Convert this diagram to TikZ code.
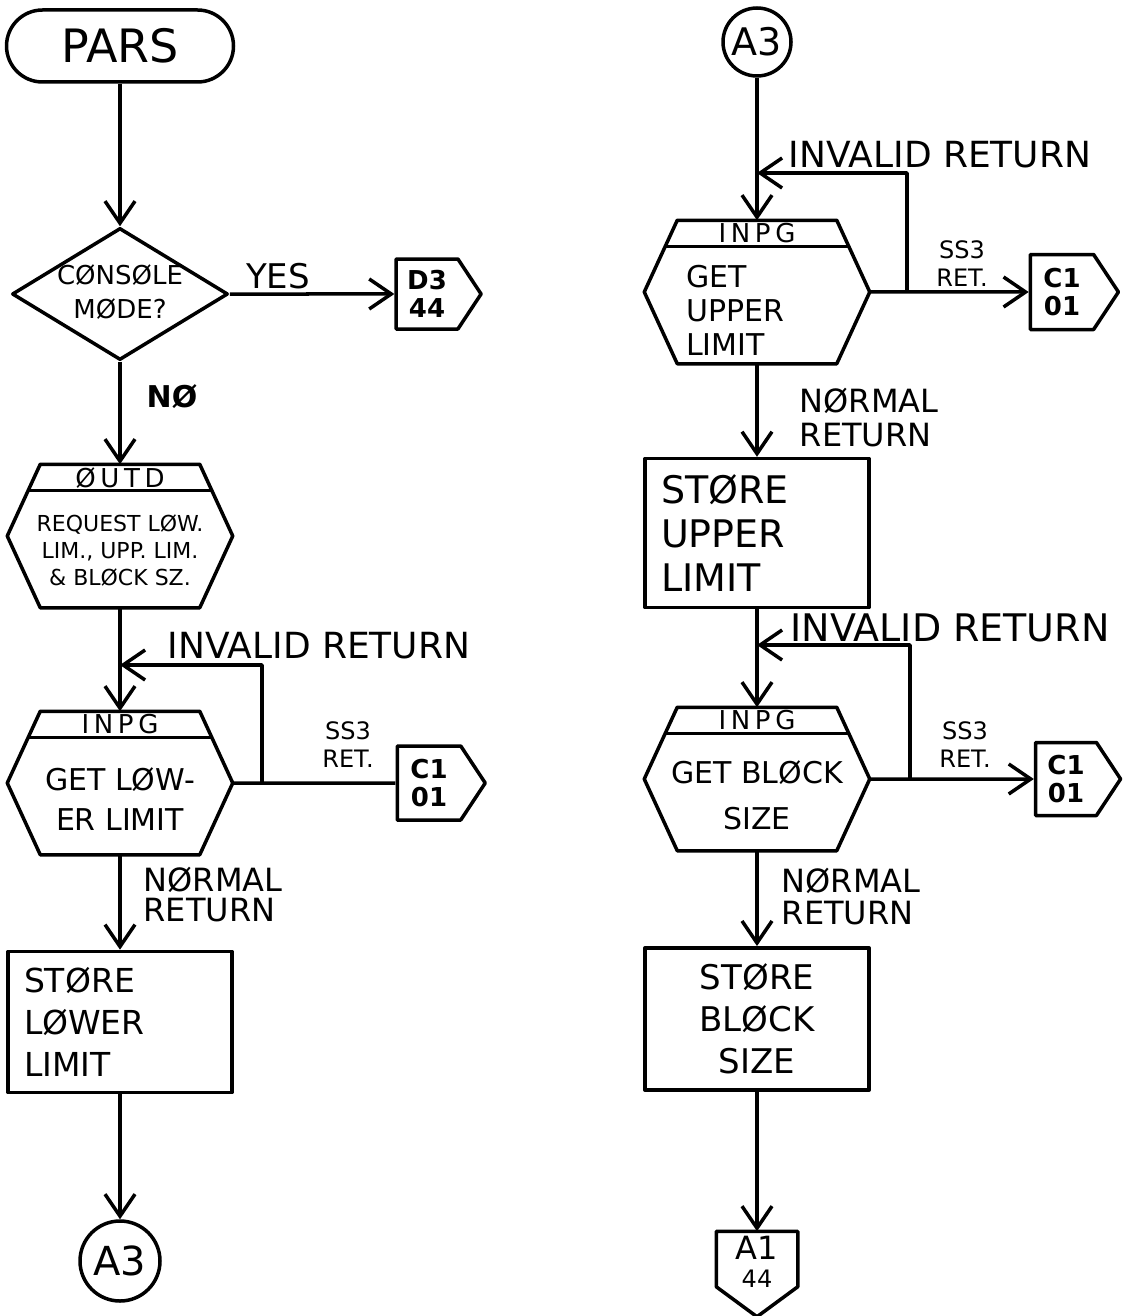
\documentclass[tikz,border=0pt]{standalone}
\usepackage{fontspec}
\setmainfont{DejaVu Sans}
\newfontfamily\widefont[LetterSpace=18]{DejaVu Sans}
\usetikzlibrary{positioning,calc,arrows.meta,shapes.geometric,shapes.symbols}

\tikzset{every picture/.style={line width=3.5pt}}
\newcommand{\fsz}[2]{\fontsize{#1}{#2}\selectfont}

% outline of a predefined process with its header bar
\newcommand{\hexout}[1]{%
  \draw ($(#1.north west)+(33,0)$) -- ($(#1.north east)+(-33,0)$) -- (#1.east)
    -- ($(#1.south east)+(-33,0)$) -- ($(#1.south west)+(33,0)$) -- (#1.west) -- cycle;
  \draw ($(#1.north west)+(21,26)$) -- ($(#1.north east)+(-21,26)$);}

% outline of an off-page connector pointing down
\newcommand{\downout}[1]{%
  \draw (#1.north west) -- (#1.north east) -- ($(#1.south east)+(0,-30)$)
    -- (#1.south) -- ($(#1.south west)+(0,-30)$) -- cycle;}

\begin{document}
\begin{tikzpicture}[
            x=1pt,
            y=1pt,
            yscale=-1,
            xscale=1,
            every node/.style={text=black},
            line width=3.5pt,
            line join=round,
            flow/.style={-{Straight Barb[length=22pt,width=30pt]}},
            term/.style={draw, rounded corners=36pt, minimum width=227pt, minimum height=72pt, inner sep=0pt, font=\fsz{46}{46}},
            decide/.style={draw, diamond, minimum width=216pt, minimum height=132pt, inner sep=0pt},
            hexproc/.style={minimum width=222pt, minimum height=140pt, inner sep=0pt},
            hdr/.style={inner sep=0pt, font=\widefont\fsz{26}{26}},
            txt/.style={inner sep=0pt, align=center},
            box/.style={draw, minimum width=224pt, minimum height=140pt, text width=192pt, inner sep=16pt, align=left},
            conn/.style={draw, circle, inner sep=0pt},
            pout/.style={draw, signal, signal to=east, signal pointer angle=113, inner sep=0pt, align=center, font=\bfseries\fsz{26}{28}},
            pdown/.style={minimum width=78pt, minimum height=82pt, inner sep=0pt},
            lbl/.style={inner sep=0pt, align=left}
        ]
            \useasboundingbox (0,0) rectangle (1138,1316);

            % left column
            \node[term] (pars) at (120,46) {PARS};
            \node[decide] (cons) at (120,294) {};
            \node[txt, font=\fsz{26}{34}] (consT) at (120,292) {CØNSØLE\\MØDE?};
            \node[pout, minimum width=85pt, minimum height=70pt] (d344) at (427,294) {D3\\44};

            \node[hexproc] (outd) at (120,536) {};
            \hexout{outd}
            \node[hdr] (outdH) at ($(outd.north)+(0,14)$) {ØUTD};
            \node[txt, font=\fsz{22}{27}] (outdT) at ($(outd.center)+(0,14)$) {REQUEST LØW.\\LIM., UPP. LIM.\\\& BLØCK SZ.};

            \node[hexproc] (inpgL) at (120,783) {};
            \hexout{inpgL}
            \node[hdr] (inpgLH) at ($(inpgL.north)+(0,13)$) {INPG};
            \node[txt, font=\fsz{30}{40}] (inpgLT) at ($(inpgL.center)+(0,16)$) {GET LØW-\\ER LIMIT};
            \node[pout, minimum width=88pt, minimum height=74pt] (c101L) at (429,783) {C1\\01};

            \node[box, font=\fsz{33}{42}] (storeL) at (120,1022) {STØRE\\LØWER\\LIMIT};
            \node[conn, minimum size=80pt, font=\fsz{40}{40}] (a3L) at (120,1261) {A3};

            % right column
            \node[conn, minimum size=68pt, font=\fsz{38}{38}] (a3R) at (757,42) {A3};

            \node[hexproc] (inpgU) at (757,292) {};
            \hexout{inpgU}
            \node[hdr] (inpgUH) at ($(inpgU.north)+(0,13)$) {INPG};
            \node[txt, align=left, font=\fsz{30}{34}] (inpgUT) at (735,310) {GET\\UPPER\\LIMIT};
            \node[pout, minimum width=88pt, minimum height=75pt] (c101U) at (1062,292) {C1\\01};

            \node[box, font=\fsz{38}{44}] (storeU) at (757,533) {STØRE\\UPPER\\LIMIT};

            \node[hexproc] (inpgB) at (757,779) {};
            \hexout{inpgB}
            \node[hdr] (inpgBH) at ($(inpgB.north)+(0,13)$) {INPG};
            \node[txt, font=\fsz{30}{46}] (inpgBT) at ($(inpgB.center)+(0,16)$) {GET BLØCK\\SIZE};
            \node[pout, minimum width=85pt, minimum height=73pt] (c101B) at (1066,779) {C1\\01};

            \node[box, align=center, font=\fsz{34}{42}] (storeB) at (757,1019) {STØRE\\BLØCK\\SIZE};
            \node[pdown] (a144) at (757,1274) {};
            \downout{a144}
            \node[txt, font=\fsz{32}{28}] (a144T) at (757,1262) {A1\\{\fsz{24}{24}44}};

            % loop points
            \coordinate (loopL) at (262,783);
            \coordinate (joinL) at (120,665);
            \coordinate (loopU) at (907,292);
            \coordinate (joinU) at (757,173);
            \coordinate (loopB) at (910,779);
            \coordinate (joinB) at (757,645);

            % connectors
            \draw[flow] (pars) -- (cons);
            \draw[flow] (cons) -- (d344);
            \draw[flow] (cons) -- (outd);
            \draw[flow] (outd) -- (inpgL);
            \draw (inpgL) -- (c101L);
            \draw[flow] (loopL) |- (joinL);
            \draw[flow] (inpgL) -- (storeL);
            \draw[flow] (storeL) -- (a3L);

            \draw[flow] (a3R) -- (inpgU);
            \draw[flow] (inpgU) -- (c101U);
            \draw[flow] (loopU) |- (joinU);
            \draw[flow] (inpgU) -- (storeU);
            \draw[flow] (storeU) -- (inpgB);
            \draw[flow] (inpgB) -- (c101B);
            \draw[flow] (loopB) |- (joinB);
            \draw[flow] (inpgB) -- (storeB);
            \draw[flow] (storeB) -- (a144);

            % labels
            \node[lbl, font=\fsz{34}{34}] (yes) at (278,276) {YES};
            \node[lbl, font=\bfseries\fsz{30}{30}] (no) at (172,397) {NØ};
            \node[lbl, font=\fsz{36}{36}] (invL) at (319,646) {INVALID RETURN};
            \node[lbl, align=center, font=\fsz{24}{28}] (ssL) at (348,745) {SS3\\RET.};
            \node[lbl, anchor=west, font=\fsz{32}{30}] (normL) at (142,895) {NØRMAL\\RETURN};

            \node[lbl, font=\fsz{36}{36}] (invU) at (940,155) {INVALID RETURN};
            \node[lbl, align=center, font=\fsz{24}{28}] (ssU) at (962,264) {SS3\\RET.};
            \node[lbl, anchor=west, font=\fsz{32}{34}] (normU) at (798,418) {NØRMAL\\RETURN};
            \node[lbl, font=\fsz{38}{38}] (invB) at (950,628) {INVALID RETURN};
            \node[lbl, align=center, font=\fsz{24}{28}] (ssB) at (965,745) {SS3\\RET.};
            \node[lbl, anchor=west, font=\fsz{32}{32}] (normB) at (780,897) {NØRMAL\\RETURN};
        \end{tikzpicture}
\end{document}
